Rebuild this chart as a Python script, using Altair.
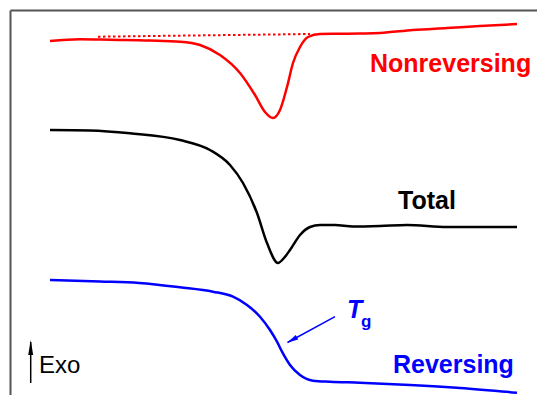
import altair as alt
import pandas as pd

# ---- curve data (x ~ temperature, y ~ signal, screen-down units)
red_x = [50, 80, 110, 150, 180, 200, 220, 240, 255, 265, 273, 280, 287, 293, 300, 308, 320, 340, 360, 380, 413, 447, 480, 517]
red_y = [41, 39.3, 39.8, 40.5, 41.7, 45, 55, 73, 95, 112, 118, 110, 87, 63, 47, 37, 34, 33.8, 33.5, 33, 30, 28, 26, 24]

black_x = [50, 90, 130, 180, 210, 230, 243, 257, 267, 278, 284, 290, 300, 310, 320, 335, 353, 380, 407, 447, 480, 517]
black_y = [130, 130.5, 133.3, 140, 150, 165, 183, 213, 243, 263, 258, 250, 235, 227, 225, 225, 226.5, 226, 225, 227, 227, 227]

blue_x = [50, 100, 139, 180, 213, 233, 247, 260, 270, 277, 282, 290, 300, 313, 330, 360, 410, 460, 517]
blue_y = [280, 281.5, 283, 287.3, 291.7, 296.7, 305, 316.7, 330, 341.7, 351.7, 365, 375, 380.7, 381.7, 382.7, 385, 388, 392.7]

series_names = ["Nonreversing", "Total", "Reversing"]
series_colors = ["#ff0000", "#000000", "#0000ff"]

# baseline (dotted) under the nonreversing peak
base_x = [98, 310]
base_y = [36.7, 34]

# labels
label_text = ["Nonreversing", "Total", "Reversing"]
label_x = [370, 398, 393]
label_y = [71.5, 209, 373]

# annotations
exo_x, exo_y, exo_y2 = 30.7, 383, 342
exo_head_y = 347.5
exo_label_x, exo_label_y = 39, 373
tg_tail = (335, 316.7)
tg_tip = (287.5, 342.5)
tg_head = (292, 340)
tg_T = (347, 318)
tg_g = (361, 327)

# frame
frame_x = [10.5, 10.5]
frame_x2 = [537, 10.5]
frame_y = [10.5, 10.5]
frame_y2 = [10.5, 395]

FONT = "Liberation Sans"

rows = []
for name, xs, ys in [("Nonreversing", red_x, red_y), ("Total", black_x, black_y), ("Reversing", blue_x, blue_y)]:
    for xv, yv in zip(xs, ys):
        rows.append({"series": name, "x": xv, "y": yv})
curves = pd.DataFrame(rows)

xs = alt.Scale(domain=[8, 537], zero=False, nice=False)
ys = alt.Scale(domain=[395, 8], zero=False, nice=False)
X = lambda f="x": alt.X(f, type="quantitative", scale=xs, axis=None)
Y = lambda f="y": alt.Y(f, type="quantitative", scale=ys, axis=None)
cscale = alt.Scale(domain=series_names, range=series_colors)

lines = alt.Chart(curves).mark_line(interpolate="monotone", strokeWidth=2.5).encode(
    x=X(), y=Y(),
    color=alt.Color("series:N", scale=cscale, legend=None),
    detail="series:N",
)

base = alt.Chart(pd.DataFrame({"x": base_x, "y": base_y})).mark_line(
    color="#ff0000", strokeWidth=2, strokeDash=[2.5, 2.5]
).encode(x=X(), y=Y())

frame = alt.Chart(pd.DataFrame({"x": frame_x, "x2": frame_x2, "y": frame_y, "y2": frame_y2})).mark_rule(
    color="#555555", strokeWidth=2
).encode(x=X(), x2="x2:Q", y=Y(), y2="y2:Q")

labels = alt.Chart(pd.DataFrame({"text": label_text, "x": label_x, "y": label_y, "series": series_names})).mark_text(
    font=FONT, fontSize=25, fontWeight="bold", align="left", baseline="alphabetic"
).encode(x=X(), y=Y(), text="text:N", color=alt.Color("series:N", scale=cscale, legend=None))

exo_line = alt.Chart(pd.DataFrame({"x": [exo_x], "y": [exo_y], "y2": [exo_y2]})).mark_rule(
    color="#000000", strokeWidth=1.5
).encode(x=X(), y=Y(), y2="y2:Q")
exo_head = alt.Chart(pd.DataFrame({"x": [exo_x], "y": [exo_head_y]})).mark_point(
    shape="M0,-1L0.33,1L-0.33,1Z", size=225, filled=True, color="#000000", opacity=1, strokeWidth=0
).encode(x=X(), y=Y())
exo_text = alt.Chart(pd.DataFrame({"x": [exo_label_x], "y": [exo_label_y], "t": ["Exo"]})).mark_text(
    font=FONT, fontSize=24, align="left", baseline="alphabetic", color="#000000"
).encode(x=X(), y=Y(), text="t:N")

tg_line = alt.Chart(pd.DataFrame({"x": [tg_tail[0]], "y": [tg_tail[1]], "x2": [tg_tip[0]], "y2": [tg_tip[1]]})).mark_rule(
    color="#0000ff", strokeWidth=1.5
).encode(x=X(), y=Y(), x2="x2:Q", y2="y2:Q")
tg_head_m = alt.Chart(pd.DataFrame({"x": [tg_head[0]], "y": [tg_head[1]]})).mark_point(
    shape="M0,-1L0.45,1L-0.45,1Z", size=130, filled=True, color="#0000ff", opacity=1, strokeWidth=0, angle=241
).encode(x=X(), y=Y())
tg_T_m = alt.Chart(pd.DataFrame({"x": [tg_T[0]], "y": [tg_T[1]], "t": ["T"]})).mark_text(
    font=FONT, fontSize=25, fontWeight="bold", fontStyle="italic", align="left", baseline="alphabetic", color="#0000ff"
).encode(x=X(), y=Y(), text="t:N")
tg_g_m = alt.Chart(pd.DataFrame({"x": [tg_g[0]], "y": [tg_g[1]], "t": ["g"]})).mark_text(
    font=FONT, fontSize=17, fontWeight="bold", align="left", baseline="alphabetic", color="#0000ff"
).encode(x=X(), y=Y(), text="t:N")

chart = alt.layer(
    frame, base, lines, labels, exo_line, exo_head, exo_text, tg_line, tg_head_m, tg_T_m, tg_g_m
).properties(width=529, height=387, padding=0, autosize="none").configure_view(strokeWidth=0)

chart.save("out.html", embed_options={"renderer": "svg", "actions": False})
